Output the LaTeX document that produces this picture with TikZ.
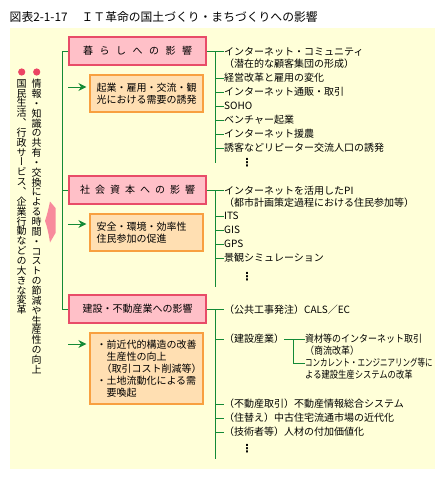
\documentclass[tikz,border=0pt]{standalone}
\usepackage{fontspec}
\usepackage{graphicx}
\usetikzlibrary{arrows.meta}
\setmainfont{Noto Sans CJK JP}
\newfontfamily\vfont[RawFeature=+vert]{Noto Sans CJK JP}
\newfontfamily\djv{DejaVu Sans}
\definecolor{bgy}{HTML}{FFFFD8}
\definecolor{pkf}{HTML}{FFC0C8}
\definecolor{pkd}{HTML}{E84C68}
\definecolor{orf}{HTML}{FFDFB2}
\definecolor{ord}{HTML}{F8A040}
\definecolor{grn}{HTML}{138A36}
\definecolor{dotc}{HTML}{EC4464}
\definecolor{arrc}{HTML}{F88A9C}
\def\vtxt#1{\ifx\relax#1\else\hbox to 10pt{\hss#1\hss}\expandafter\vtxt\fi}
\newcommand\vcol[1]{\vbox{\vfont\fontsize{10}{9.85}\selectfont\lineskiplimit=-100pt\lineskip=0pt\vtxt #1\relax}}
\begin{document}
\begin{tikzpicture}[x=1pt,y=-1pt,
  pbox/.style={draw=pkd, fill=pkf, line width=1.2pt, minimum width=137, minimum height=28, inner sep=0, font=\fontsize{10}{12}\selectfont},
  obox/.style={draw=ord, fill=orf, line width=1.2pt, minimum width=113, text width=100, inner xsep=6.5, inner ysep=0, align=left, font=\fontsize{10}{12}\selectfont},
  item/.style={anchor=west, inner sep=0, font=\fontsize{10}{12}\selectfont},
  dots/.style={inner sep=0, font=\djv\bfseries\fontsize{11}{11}\selectfont},
  gl/.style={draw=grn, line width=0.9pt},
  garr/.style={gl, -{Stealth[length=8pt,width=8pt]}, shorten >=3pt},
]
\useasboundingbox (0,0) rectangle (445,479);
\fill[bgy] (10,28) rectangle (435,469);

% title
\node[anchor=west, inner sep=0, font=\fontsize{11.8}{12}\selectfont] (title) at (9.5,17.5) {図表2-1-17\hspace{14pt}ＩＴ革命の国土づくり・まちづくりへの影響};

% vertical columns
\fill[dotc] (36.7,72) circle (3.6);
\fill[dotc] (21.7,72) circle (3.6);
\node[anchor=north, inner sep=0] (col1) at (36.7,79) {\vcol{情報・知識の共有・交換による時間・コストの節減や生産性の向上}};
\node[anchor=north, inner sep=0] (col2) at (21.7,79) {\vcol{国民生活、行政サービス、企業行動などの大きな変革}};

% big pink arrow
\fill[arrc] (50,201.5) -- (55.5,208) -- (55.5,233) -- (50,242.5)
  .. controls (48.5,233) and (47,226) .. (45,221)
  .. controls (47,215) and (48.5,209) .. (50,201.5) -- cycle;

% pink boxes
\node[pbox] (p1) at (137.5,51) {暮\hspace{6.5pt}ら\hspace{6.5pt}し\hspace{6.5pt}へ\hspace{6.5pt}の\hspace{6.5pt}影\hspace{6.5pt}響};
\node[pbox] (p2) at (137.5,190) {社\hspace{5pt}会\hspace{5pt}資\hspace{5pt}本\hspace{5pt}へ\hspace{5pt}の\hspace{5pt}影\hspace{5pt}響};
\node[pbox] (p3) at (137.5,309) {建設・不動産業への影響};

% orange boxes
\node[obox, minimum height=37] (o1) at (146.5,93.5) {起業・雇用・交流・観\\光における需要の誘発};
\node[obox, minimum height=37] (o2) at (146.5,232.5) {安全・環境・効率性\\住民参加の促進};
\node[obox, minimum height=71] (o3) at (146.5,368.5) {・前近代的構造の改善\\\hspace*{10pt}生産性の向上\\\hspace*{5pt}（取引コスト削減等）\\・土地流動化による需\\\hspace*{10pt}要喚起};

% left spine
\draw[gl] (p1.west) -- (62,51) -- (62,309) -- (p3.west);
\draw[gl] (62,190) -- (p2.west);

% green arrows
\coordinate (a1) at (68,87);
\coordinate (a2) at (68,224);
\coordinate (a3) at (68,344);
\draw[garr] (a1) -- (a1 -| o1.west);
\draw[garr] (a2) -- (a2 -| o2.west);
\draw[garr] (a3) -- (a3 -| o3.west);

% group 1
\node[item] (i11) at (224,52) {インターネット・コミュニティ};
\node[item] (i11b) at (224,63.3) {（潜在的な顧客集団の形成）};
\node[item] (i12) at (224,78) {経営改革と雇用の変化};
\node[item] (i13) at (224,92) {インターネット通販・取引};
\node[item] (i14) at (224,106) {SOHO};
\node[item] (i15) at (224,120) {ベンチャー起業};
\node[item] (i16) at (224,134) {インターネット援農};
\node[item] (i17) at (224,148) {誘客などリピーター交流人口の誘発};
\node[dots] (d1) at (247,162.5) {⋮};
\draw[gl] (p1.east) -- (i11.west |- p1.east);
\draw[gl] (215,51) -- (215,163);
\foreach \n in {i12,i13,i14,i15,i16,i17} \draw[gl] (215,0 |- \n.west) -- (\n.west);

% group 2
\node[item] (i21) at (224,191) {インターネットを活用したPI};
\node[item] (i21b) at (224,203) {（都市計画策定過程における住民参加等）};
\node[item] (i22) at (224,216) {ITS};
\node[item] (i23) at (224,230) {GIS};
\node[item] (i24) at (224,244) {GPS};
\node[item] (i25) at (224,258) {景観シミュレーション};
\node[dots] (d2) at (247,277) {⋮};
\draw[gl] (p2.east) -- (i21.west |- p2.east);
\draw[gl] (215,190) -- (215,287);
\foreach \n in {i22,i23,i24,i25} \draw[gl] (215,0 |- \n.west) -- (\n.west);

% group 3
\node[item] (i31) at (224,310) {（公共工事発注）CALS／EC};
\node[item] (i32) at (224,339) {（建設産業）};
\node[item] (s1) at (305,339) {\scalebox{0.9}[1]{資材等のインターネット取引}};
\node[item] (s1b) at (305,351) {\scalebox{0.9}[1]{（商流改革）}};
\node[item] (s2) at (305,363) {\scalebox{0.75}[1]{コンカレント・エンジニアリング等に}};
\node[item] (s2b) at (305,375) {\scalebox{0.83}[1]{よる建設生産システムの改革}};
\node[item] (i33) at (224,404) {（不動産取引）不動産情報総合システム};
\node[item] (i34) at (224,418) {（住替え）中古住宅流通市場の近代化};
\node[item] (i35) at (224,432) {（技術者等）人材の付加価値化};
\node[dots] (d3) at (247,449) {⋮};
\draw[gl] (p3.east) -- (i31.west |- p3.east);
\draw[gl] (215,309) -- (215,459);
\foreach \n in {i32,i33,i34,i35} \draw[gl] (215,0 |- \n.west) -- (\n.west);
\draw[gl] (i32.east) -- (s1.west);
\draw[gl] (293,0 |- s1.west) -- (293,0 |- s2.west) -- (s2.west);
\end{tikzpicture}
\end{document}
